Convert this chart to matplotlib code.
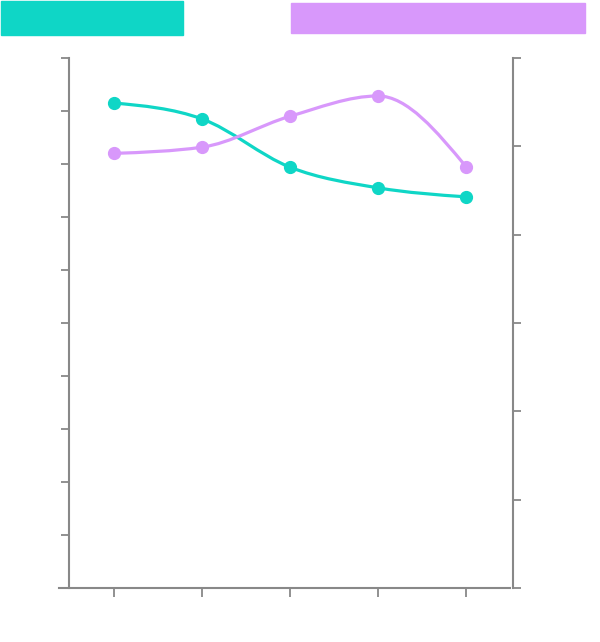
import matplotlib
matplotlib.use("Agg")
import matplotlib.pyplot as plt
import numpy as np
from matplotlib.path import Path
from matplotlib.patches import PathPatch, Rectangle

categories = [0, 1, 2, 3, 4]
teal_values = [91.5, 88.5, 79.4, 75.5, 73.8]
purple_values = [49.2, 49.9, 53.4, 55.7, 47.7]
left_ticks = list(range(0, 101, 10))
right_ticks = list(range(0, 61, 10))

TEAL = "#0fd6c6"
PURPLE = "#d898fb"
GREY = "#888888"


def monotone_path(x, y):
    # monotone-x cubic, like d3.curveMonotoneX
    x = np.asarray(x, float)
    y = np.asarray(y, float)
    n = len(x)
    h = np.diff(x)
    s = np.diff(y) / h
    t = np.zeros(n)
    for i in range(1, n - 1):
        if s[i - 1] * s[i] <= 0:
            t[i] = 0
        else:
            p = (s[i - 1] * h[i] + s[i] * h[i - 1]) / (h[i - 1] + h[i])
            t[i] = (np.sign(s[i - 1]) + np.sign(s[i])) * min(abs(s[i - 1]), abs(s[i]), 0.5 * abs(p))
    t[0] = (3 * s[0] - t[1]) / 2 if n > 2 else s[0]
    t[-1] = (3 * s[-1] - t[-2]) / 2 if n > 2 else s[-1]
    verts = [(x[0], y[0])]
    codes = [Path.MOVETO]
    for i in range(n - 1):
        dx = h[i] / 3
        verts += [(x[i] + dx, y[i] + dx * t[i]), (x[i + 1] - dx, y[i + 1] - dx * t[i + 1]), (x[i + 1], y[i + 1])]
        codes += [Path.CURVE4] * 3
    return Path(verts, codes)


fig = plt.figure(figsize=(6, 6.42), dpi=100)
ax = fig.add_axes([0.115, 0.0841, 0.74, 0.8256])
ax2 = ax.twinx()

ax.set_xlim(-0.511, 4.534)
ax.set_ylim(0, 100)
ax2.set_ylim(0, 60)

ax.add_patch(PathPatch(monotone_path(categories, teal_values), fill=False, ec=TEAL, lw=2.3))
ax.plot(categories, teal_values, "o", color=TEAL, ms=8.5)
ax2.add_patch(PathPatch(monotone_path(categories, purple_values), fill=False, ec=PURPLE, lw=2.3))
ax2.plot(categories, purple_values, "o", color=PURPLE, ms=8.5)

for a in (ax, ax2):
    a.spines["top"].set_visible(False)
    for sp in a.spines.values():
        sp.set_color(GREY)
        sp.set_linewidth(1.5)
    a.tick_params(colors=GREY, width=1.3, length=6, labelleft=False, labelright=False, labelbottom=False)

ax.spines["right"].set_visible(False)
ax2.spines["left"].set_visible(False)
ax2.spines["bottom"].set_visible(False)
ax.spines["bottom"].set_bounds(-0.625, 4.5)
ax.set_yticks(left_ticks)
ax2.set_yticks(right_ticks)
ax.set_xticks(categories)
ax.tick_params(axis="x", length=6.5)

# legend swatches
fig.patches.append(Rectangle((1 / 600, 1 - 35 / 642), 182 / 600, 34 / 642, transform=fig.transFigure, color=TEAL))
fig.patches.append(Rectangle((291 / 600, 1 - 33 / 642), 294 / 600, 30 / 642, transform=fig.transFigure, color=PURPLE))

fig.savefig("out.png", dpi=100)
